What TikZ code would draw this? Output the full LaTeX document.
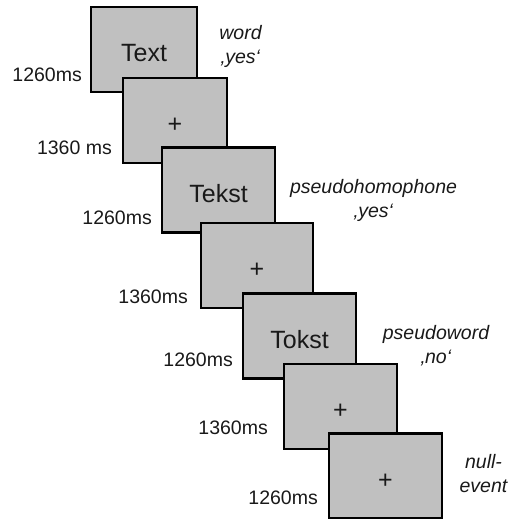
\documentclass[tikz,border=0pt]{standalone}
\usepackage{fontspec}
\setmainfont{Liberation Sans}
\definecolor{scrgray}{RGB}{192,192,192}
\definecolor{txt}{RGB}{25,25,25}
\begin{document}
\begin{tikzpicture}[x=1pt,y=-1pt,
  screen/.style={draw=black, fill=scrgray, line width=2.6pt, inner sep=0pt, outer sep=0pt,
    minimum height=85pt, text height=24pt, text depth=0pt, text=txt, font=\fontsize{25}{30}\selectfont},
  dur/.style={anchor=east, inner sep=0pt, text=txt, font=\fontsize{19.5}{23}\selectfont},
  cond/.style={align=center, inner sep=0pt, text=txt, font=\itshape\fontsize{19.5}{24}\selectfont}]
\useasboundingbox (0,0) rectangle (509,519);
\begin{scope}
\clip (0,0) rectangle (509,519);
\node[screen, minimum width=106pt] (s1) at (144,49.5) {Text};
\node[screen, minimum width=104pt] (s2) at (175,120.5) {+};
\node[screen, minimum width=113pt] (s3) at (218.5,190) {Tekst};
\node[screen, minimum width=112pt] (s4) at (257,265.5) {+};
\node[screen, minimum width=113pt] (s5) at (299.5,336) {Tokst};
\node[screen, minimum width=113pt] (s6) at (340.5,406.5) {+};
\node[screen, minimum width=113pt] (s7) at (385.5,476) {+};
\end{scope}
\node[dur] (d1) at (82,75) {1260ms};
\node[dur] (d2) at (112,148) {1360 ms};
\node[dur] (d3) at (152,218) {1260ms};
\node[dur] (d4) at (188,297) {1360ms};
\node[dur] (d5) at (233,360) {1260ms};
\node[dur] (d6) at (268,428) {1360ms};
\node[dur] (d7) at (318,498) {1260ms};
\node[cond] (c1) at (240.5,46) {word\\‚yes‘};
\node[cond] (c2) at (373.5,200) {pseudohomophone\\‚yes‘};
\node[cond] (c3) at (436,346) {pseudoword\\‚no‘};
\node[cond] (c4) at (483.5,474) {null-\\event};
\end{tikzpicture}
\end{document}
